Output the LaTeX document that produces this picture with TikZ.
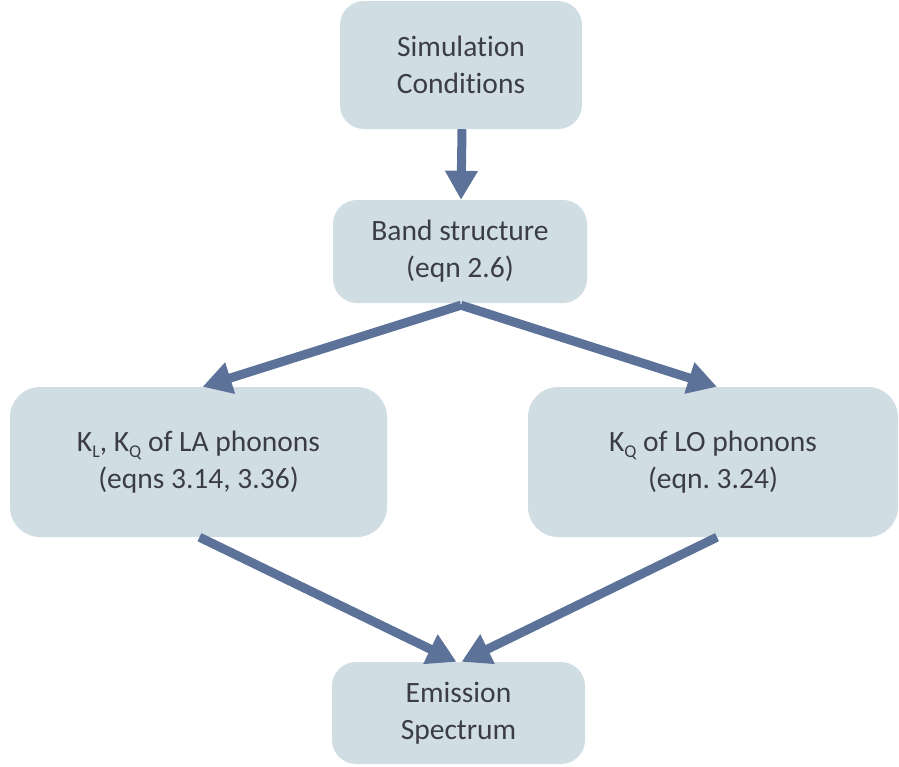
\documentclass[tikz,border=0pt]{standalone}
\usepackage{fontspec}
\setmainfont[Ligatures=NoCommon]{Carlito}
\usetikzlibrary{arrows.meta}
\definecolor{boxfill}{RGB}{208,222,228}
\definecolor{arrowcol}{RGB}{92,114,152}
\definecolor{txtcol}{RGB}{60,60,72}
\newcommand{\lowsub}[1]{\raisebox{-0.45ex}{\fontsize{18}{18}\selectfont #1}}
\tikzset{
  flowbox/.style={rectangle, rounded corners=24pt, fill=boxfill, draw=none,
    text=txtcol, align=center, inner sep=0pt,
    font=\fontsize{29.5}{37}\selectfont\frenchspacing},
  flowarrow/.style={draw=arrowcol, line width=9pt,
    -{Triangle[width=31pt,length=29pt]}, shorten >=0pt}
}
\begin{document}
\begin{tikzpicture}[x=1pt,y=-1pt]
\useasboundingbox (0,0) rectangle (899,766);
\node[flowbox, minimum width=242pt, minimum height=128pt] (sim) at (461,65) {Simulation\\Conditions};
\node[flowbox, minimum width=254pt, minimum height=103pt] (band) at (460,251.5) {Band structure\\(eqn 2.6)};
\node[flowbox, minimum width=377pt, minimum height=150pt, rounded corners=30pt] (la) at (198.5,462) {K\lowsub{L}, K\lowsub{Q} of LA phonons\\(eqns 3.14, 3.36)};
\node[flowbox, minimum width=370pt, minimum height=150pt, rounded corners=30pt] (lo) at (713,462) {K\lowsub{Q} of LO phonons\\(eqn. 3.24)};
\node[flowbox, minimum width=253pt, minimum height=102pt] (em) at (458.5,713) {Emission\\Spectrum};
\draw[flowarrow] ([xshift=1pt]sim.south) -- ([xshift=1pt]band.north);
\draw[flowarrow] ([xshift=1pt,yshift=-2pt]band.south) -- ([xshift=4pt]la.north);
\draw[flowarrow] ([xshift=1pt,yshift=-2pt]band.south) -- ([xshift=4pt]lo.north);
\draw[flowarrow] ([xshift=1pt]la.south) -- ([xshift=-2pt]em.north);
\draw[flowarrow] ([xshift=4pt]lo.south) -- ([xshift=3pt]em.north);
\end{tikzpicture}
\end{document}
